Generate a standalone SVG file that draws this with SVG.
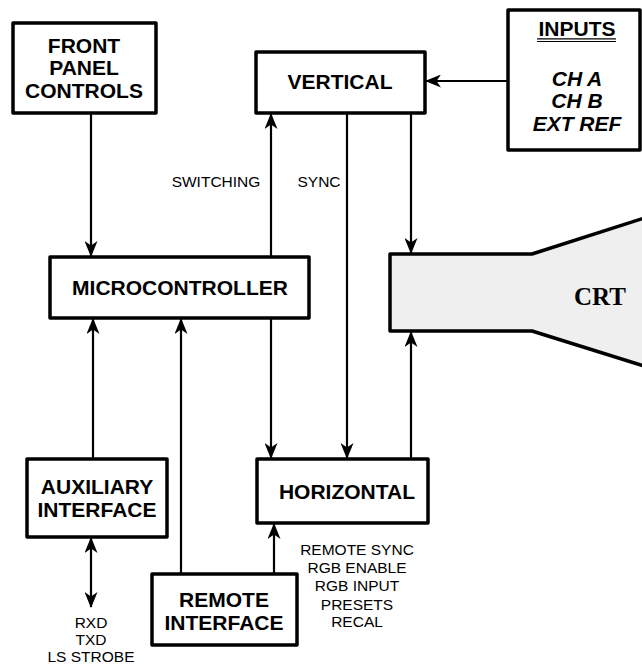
<svg xmlns="http://www.w3.org/2000/svg" width="642" height="664" viewBox="0 0 642 664">
<style>
.box{fill:#fff;stroke:#000;stroke-width:3.5;stroke-linejoin:round}
.t{font-family:"Liberation Sans",Arial,sans-serif;font-weight:bold;font-size:21px;text-anchor:middle;fill:#000}
.ti{font-style:italic}
.s{font-family:"Liberation Sans",Arial,sans-serif;font-size:15.5px;text-anchor:middle;fill:#000}
.c{fill:none;stroke:#000;stroke-width:2.2}
</style>
<defs>
<marker id="ah" viewBox="0 0 16 13" refX="15" refY="6.5" markerWidth="16" markerHeight="13" markerUnits="userSpaceOnUse" orient="auto-start-reverse">
<path d="M0,0 L16,6.5 L0,13 L4.5,6.5 z" fill="#000"/>
</marker>
</defs>
<rect width="642" height="664" fill="#fff"/>
<g id="connectors">
<line class="c" x1="91" y1="113" x2="91" y2="256" marker-end="url(#ah)"/>
<line class="c" x1="271" y1="257" x2="271" y2="114" marker-end="url(#ah)"/>
<line class="c" x1="509" y1="81" x2="426" y2="81" marker-end="url(#ah)"/>
<line class="c" x1="347" y1="113" x2="347" y2="458" marker-end="url(#ah)"/>
<line class="c" x1="411" y1="113" x2="411" y2="253" marker-end="url(#ah)"/>
<line class="c" x1="411" y1="459" x2="411" y2="332" marker-end="url(#ah)"/>
<line class="c" x1="271" y1="318" x2="271" y2="458" marker-end="url(#ah)"/>
<line class="c" x1="93" y1="459" x2="93" y2="319" marker-end="url(#ah)"/>
<line class="c" x1="181" y1="574" x2="181" y2="319" marker-end="url(#ah)"/>
<line class="c" x1="274" y1="574" x2="274" y2="524" marker-end="url(#ah)"/>
<line class="c" x1="91" y1="538" x2="91" y2="607" marker-start="url(#ah)" marker-end="url(#ah)"/>
<text class="s" x="216" y="187">SWITCHING</text>
<text class="s" x="319" y="187">SYNC</text>
</g>
<g id="front-panel">
<rect class="box" x="13" y="23" width="143" height="90"/>
<text class="t" x="84" y="53">FRONT</text>
<text class="t" x="84" y="75">PANEL</text>
<text class="t" x="84" y="98">CONTROLS</text>
</g>
<g id="vertical">
<rect class="box" x="256" y="52" width="169" height="61"/>
<text class="t" x="340" y="89">VERTICAL</text>
</g>
<g id="inputs">
<rect class="box" x="508" y="10" width="132" height="140"/>
<text class="t" x="577" y="36">INPUTS</text>
<line x1="537" y1="38.8" x2="616" y2="38.8" stroke="#000" stroke-width="1.2"/>
<line x1="537" y1="41.5" x2="616" y2="41.5" stroke="#000" stroke-width="1.2"/>
<text class="t ti" x="577" y="86">CH A</text>
<text class="t ti" x="577" y="108">CH B</text>
<text class="t ti" x="577" y="131">EXT REF</text>
</g>
<g id="microcontroller">
<rect class="box" x="50" y="257" width="259" height="61"/>
<text class="t" x="180" y="295">MICROCONTROLLER</text>
</g>
<g id="crt">
<path d="M390,254 L532,254 L660,213 L660,371 L532,331 L390,331 z" fill="#efefef" stroke="#000" stroke-width="3.5" stroke-linejoin="round"/>
<text x="600" y="305" font-family="'Liberation Serif','Times New Roman',serif" font-weight="bold" font-size="25" text-anchor="middle">CRT</text>
</g>
<g id="auxiliary">
<rect class="box" x="27" y="459" width="140" height="78"/>
<text class="t" x="97" y="494">AUXILIARY</text>
<text class="t" x="97" y="517">INTERFACE</text>
<text class="s" x="91" y="628">RXD</text>
<text class="s" x="91" y="645">TXD</text>
<text class="s" x="91" y="662">LS STROBE</text>
</g>
<g id="horizontal">
<rect class="box" x="257" y="459" width="171" height="64"/>
<text class="t" x="347" y="499">HORIZONTAL</text>
<text class="s" x="357" y="555">REMOTE SYNC</text>
<text class="s" x="357" y="573">RGB ENABLE</text>
<text class="s" x="357" y="591">RGB INPUT</text>
<text class="s" x="357" y="610">PRESETS</text>
<text class="s" x="357" y="627">RECAL</text>
</g>
<g id="remote">
<rect class="box" x="152" y="574" width="145" height="71"/>
<text class="t" x="224" y="607">REMOTE</text>
<text class="t" x="224" y="630">INTERFACE</text>
</g>
</svg>
